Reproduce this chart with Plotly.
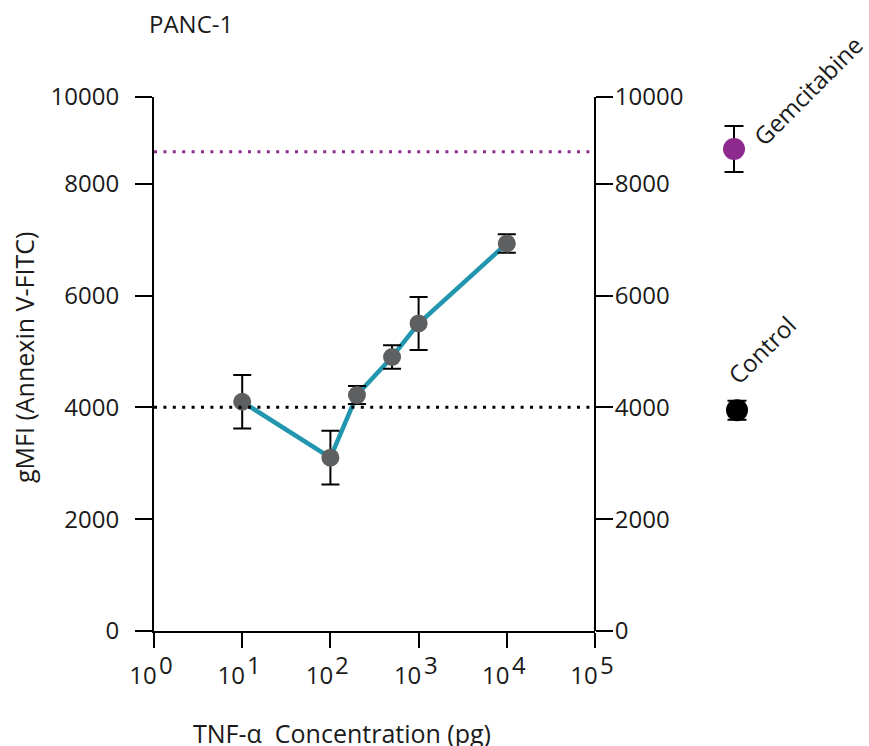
import math
import plotly.graph_objects as go

# TNF-alpha dose response (PANC-1), gMFI of Annexin V-FITC
conc = [10, 100, 200, 500, 1000, 10000]
gmfi = [4100, 3100, 4220, 4900, 5500, 6930]
gmfi_err = [480, 480, 160, 210, 475, 165]

# reference conditions shown in the side column
ref_labels = ["Gemcitabine", "Control"]
ref_values = [8620, 3950]
ref_err = [410, 170]
ref_levels = [8570, 4000]          # dotted reference levels across the panel
ref_colors = ["#8E2A8E", "#000000"]

# y ticks; the upper segment of the axis is compressed, its top tick reads 10000
y_tickvals = [0, 2000, 4000, 6000, 8000, 9550]
y_ticktext = ["0", "2000", "4000", "6000", "8000", "10000"]
x_tickvals = [1, 10, 100, 1000, 10000, 100000]
x_exponents = ["0", "1", "2", "3", "4", "5"]

FONT = "Open Sans"
TXT = "#1a1a1a"
W, H = 869, 746
ML, MR, MT, MB = 154, 0, 97, 115
pw = W - ML - MR
ph = H - MT - MB
main_end = 441 / pw


def px_x(p):
    return (p - ML) / pw


def px_y(p):
    return (H - MB - p) / ph


fig = go.Figure()

# connecting line
fig.add_trace(go.Scatter(
    x=conc, y=gmfi, mode="lines",
    line=dict(color="#2196AE", width=4.5),
    hoverinfo="skip", showlegend=False, cliponaxis=False,
))
# points with SD error bars
fig.add_trace(go.Scatter(
    x=conc, y=gmfi, mode="markers",
    marker=dict(color="#5E5F61", size=18, line=dict(width=0)),
    error_y=dict(type="data", array=gmfi_err, color="#000000",
                 thickness=2, width=9),
    showlegend=False, cliponaxis=False,
))

# side column: gemcitabine and control
ref_x = [1.0, 1.15]
for lab, val, err, col, xx in zip(ref_labels, ref_values, ref_err, ref_colors, ref_x):
    fig.add_trace(go.Scatter(
        x=[xx], y=[val], mode="markers", xaxis="x2", yaxis="y",
        marker=dict(color=col, size=22, line=dict(width=0)),
        error_y=dict(type="data", array=[err], color="#000000",
                     thickness=2, width=9.5),
        showlegend=False, cliponaxis=False, name=lab,
    ))

# helper trace so the right-hand axis is drawn
fig.add_trace(go.Scatter(
    x=[10], y=[0], xaxis="x", yaxis="y2", mode="markers",
    marker=dict(opacity=0), hoverinfo="skip", showlegend=False,
))

# dotted reference levels
for lvl, col in zip(ref_levels, ref_colors):
    fig.add_shape(type="line", xref="x domain", yref="y",
                  x0=0, x1=1, y0=lvl, y1=lvl,
                  line=dict(color=col, width=3, dash="3px,6.4px"))

axis_common = dict(
    showline=True, linecolor="#000000", linewidth=2,
    ticks="outside", tickcolor="#000000", tickwidth=2,
    showgrid=False, zeroline=False,
    tickfont=dict(family=FONT, size=24, color=TXT),
)

fig.update_layout(
    width=W, height=H,
    margin=dict(l=ML, r=MR, t=MT, b=MB, pad=0, autoexpand=False),
    paper_bgcolor="white", plot_bgcolor="white",
    font=dict(family=FONT, color=TXT),
    xaxis=dict(
        **axis_common, type="log", range=[0, 5], domain=[0, main_end],
        tickvals=x_tickvals, ticktext=["10"] * len(x_tickvals),
        ticklen=15, anchor="y", ticklabelshift=-11, ticklabelstandoff=7,
    ),
    yaxis=dict(
        **axis_common, range=[0, 9550], domain=[0, 1],
        tickvals=y_tickvals, ticktext=y_ticktext, ticklen=17, anchor="x",
        ticklabelstandoff=11,
    ),
    yaxis2=dict(
        **axis_common, overlaying="y", matches="y", side="right",
        anchor="free", position=main_end,
        tickvals=y_tickvals, ticktext=y_ticktext, ticklen=17,
        ticklabelstandoff=-3,
    ),
    xaxis2=dict(
        domain=[px_x(714), px_x(754)], range=[0, 2], visible=False,
        anchor="y", showgrid=False, zeroline=False,
    ),
)

ann = [
    dict(text="PANC-1", x=px_x(147), y=px_y(23), xref="paper", yref="paper",
         xanchor="left", yanchor="middle", showarrow=False,
         font=dict(family=FONT, size=24, color=TXT)),
    dict(text="gMFI (Annexin V-FITC)", x=px_x(24), y=px_y(358),
         xref="paper", yref="paper", textangle=-90,
         xanchor="center", yanchor="middle", showarrow=False,
         font=dict(family=FONT, size=25, color=TXT)),
    dict(text="TNF-\u03b1\u00a0 Concentration (pg)", x=px_x(342), y=px_y(733),
         xref="paper", yref="paper", xanchor="center", yanchor="middle",
         showarrow=False, font=dict(family=FONT, size=25, color=TXT)),
    dict(text="Gemcitabine", x=ref_x[0], y=ref_values[0], xref="x2", yref="y",
         xanchor="left", yanchor="bottom", xshift=9, yshift=-6,
         textangle=-45, showarrow=False,
         font=dict(family=FONT, size=24, color=TXT)),
    dict(text="Control", x=ref_x[1], y=ref_values[1], xref="x2", yref="y",
         xanchor="left", yanchor="bottom", xshift=-19, yshift=17,
         textangle=-45, showarrow=False,
         font=dict(family=FONT, size=24, color=TXT)),
]
# exponents of the decade tick labels, set at full size beside the "10"
# (annotation x on a log axis is given in log10 units)
for tv, ex in zip(x_tickvals, x_exponents):
    ann.append(dict(text=ex, x=math.log10(tv), y=px_y(664), xref="x", yref="paper",
                    xanchor="left", yanchor="middle", xshift=3,
                    showarrow=False, font=dict(family=FONT, size=24, color=TXT)))
fig.update_layout(annotations=ann)

fig.write_html("out.html")
